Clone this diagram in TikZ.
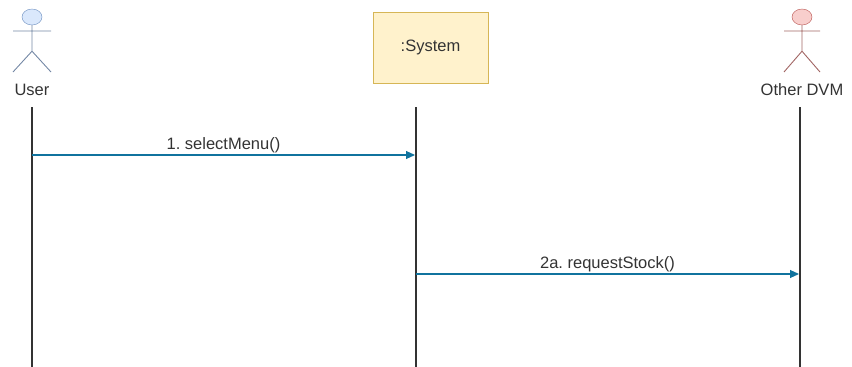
\documentclass[tikz,border=0pt]{standalone}
\usepackage{fontspec}
\setmainfont{Liberation Sans}
\usetikzlibrary{shapes.geometric,arrows.meta,positioning}
\definecolor{userfill}{HTML}{DAE8FC}
\definecolor{userline}{HTML}{6C8EBF}
\definecolor{dvmfill}{HTML}{F8CECC}
\definecolor{dvmline}{HTML}{B85450}
\definecolor{sysfill}{HTML}{FFF2CC}
\definecolor{sysline}{HTML}{D6B656}
\definecolor{msgblue}{HTML}{10739E}
\definecolor{txt}{HTML}{333333}
\frenchspacing

\begin{document}
\begin{tikzpicture}[x=1pt,y=-1pt,font=\fontsize{16.5}{19}\selectfont,text=txt,
  head/.style={ellipse,draw,minimum width=20,minimum height=16,inner sep=0},
  limbs/.style={line width=0.9},
  lifeline/.style={draw=black!80,line width=1.6},
  msg/.style={draw=msgblue,line width=1.1,-{Triangle[length=9,width=8]}}]
	     \useasboundingbox (0,0) rectangle (852,367);
	     % actors
	     \node[head, fill=userfill, draw=userline] (uh) at (32,17) {};
	     \draw[limbs, userline!60!gray] (uh.south) -- ++(0,26) coordinate (uhip)
	     	(13,31) -- (51,31)
	     	(13,72) -- (uhip) -- (51,72);
	     \node (u) at (32,90) {User};
	     \node[head, fill=dvmfill, draw=dvmline] (dh) at (802,17) {};
	     \draw[limbs, dvmline!60!gray] (dh.south) -- ++(0,26) coordinate (dhip)
	     	(784,31) -- (820,31)
	     	(784,72) -- (dhip) -- (820,72);
	     \node (d) at (802,90) {Other DVM};
	     \node[draw=sysline, fill=sysfill, minimum width=115, minimum height=71] (s) at (430.5,47.5) {:System};

	     % lifelines
	     \coordinate (utop) at (32,107);
	     \coordinate (ubot) at (32,367);
	     \coordinate (stop) at (416,107);
	     \coordinate (sbot) at (416,367);
	     \coordinate (dtop) at (800,107);
	     \coordinate (dbot) at (800,367);
	     \draw[lifeline] (utop) -- (ubot);
	     \draw[lifeline] (stop) -- (sbot);
	     \draw[lifeline] (dtop) -- (dbot);

	     % messages
	     \coordinate (m1a) at (32,155);
	     \coordinate (m1b) at (415,155);
	     \coordinate (m2a) at (416,274);
	     \coordinate (m2b) at (799,274);
	     \draw[msg] (m1a) -- node[above=-2pt] {1. selectMenu()} (m1b);
	     \draw[msg] (m2a) -- node[above=-2pt] {2a. requestStock()} (m2b);
\end{tikzpicture}
\end{document}
